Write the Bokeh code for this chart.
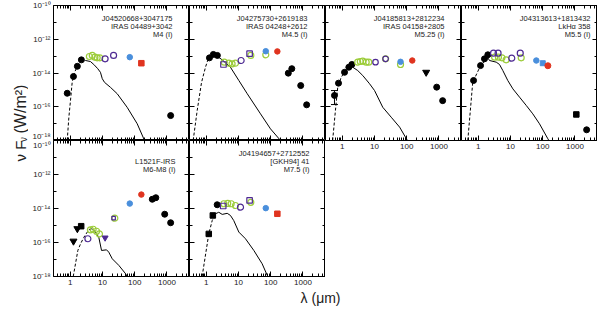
import math
from bokeh.plotting import figure
from bokeh.layouts import row, column
from bokeh.models import FixedTicker, LogAxis, Label, Range1d
from bokeh.core.properties import value
from bokeh.embed import file_html
from bokeh.resources import INLINE

# ---------------- axes ----------------
X_RANGE = (0.3, 5000)
Y_RANGE = (1e-18, 1e-10)
X_MAJOR = [1, 10, 100, 1000]
X_LABELS = {1: "1", 10: "10", 100: "100", 1000: "1000"}
Y_MAJOR = [1e-18, 1e-16, 1e-14, 1e-12, 1e-10]
Y_MINOR = [1e-17, 1e-15, 1e-13, 1e-11]
Y_LABELS = {1e-18: "10⁻¹⁸", 1e-16: "10⁻¹⁶", 1e-14: "10⁻¹⁴", 1e-12: "10⁻¹²", 1e-10: "10⁻¹⁰"}
X_MINOR = [m * d for d in (0.1, 1, 10, 100, 1000) for m in range(2, 10) if 0.3 <= m * d <= 5000]

# ---------------- panel 1 ----------------
P1_TEXT = ["J04520668+3047175", "IRAS 04489+3042", "M4 (I)"]
P1_RISE_X = [0.80, 0.90, 1.01, 1.14, 1.35, 1.71, 2.22, 2.96]
P1_RISE_Y = [1e-18, 2.4e-17, 2.3e-16, 2.8e-15, 1.1e-14, 2.8e-14, 4.8e-14, 5.5e-14]
P1_FALL_X = [2.96, 4.2, 5.35, 7.1, 8.6, 9.8, 11.5, 17.7, 28.5, 58, 119, 201]
P1_FALL_Y = [5.5e-14, 4.8e-14, 3.2e-14, 1.8e-14, 1.1e-14, 4.6e-15, 2.8e-15, 1.4e-15, 5.9e-16, 9.3e-17, 9.8e-18, 1e-18]
P1_BLACK_X = [0.80, 1.25, 1.65, 2.2, 1300]
P1_BLACK_Y = [6.3e-16, 6.2e-15, 2.5e-14, 6.0e-14, 3.0e-17]
P1_GREEN_X = [3.9, 4.8, 5.8, 6.8, 8.2]
P1_GREEN_Y = [9.5e-14, 1.1e-13, 8.7e-14, 7.9e-14, 7.9e-14]
P1_PURPLE_X = [12, 22]
P1_PURPLE_Y = [6.9e-14, 1.1e-13]
P1_BLUE_X = [70]
P1_BLUE_Y = [8.7e-14]
P1_RED_X = [160]
P1_RED_Y = [3.8e-14]

# ---------------- panel 2 ----------------
P2_TEXT = ["J04275730+2619183", "IRAS 04248+2612", "M4.5 (I)"]
P2_RISE_X = [0.39, 0.52, 0.71, 0.94, 1.19, 1.71]
P2_RISE_Y = [1e-18, 6.0e-17, 2.8e-15, 2.2e-14, 8.7e-14, 1.4e-13]
P2_FALL_X = [1.71, 3.11, 5.6, 10.2, 18.6, 48, 98, 201]
P2_FALL_Y = [1.4e-13, 6.0e-14, 2.2e-14, 3.6e-15, 5.9e-16, 3.8e-17, 4.9e-18, 1e-18]
P2_BLACK_X = [1.25, 1.65, 2.2, 350, 450, 850, 1300]
P2_BLACK_Y = [7.9e-14, 1.26e-13, 1.1e-13, 9.8e-15, 1.8e-14, 1.8e-15, 1.3e-16]
P2_GREEN_X = [3.6, 5.0, 6.3, 8.0, 24, 70]
P2_GREEN_Y = [4.4e-14, 3.8e-14, 3.5e-14, 3.8e-14, 1.1e-13, 1.2e-13]
P2_PSQ_X = [3.4, 22]
P2_PSQ_Y = [3.2e-14, 1.4e-13]
P2_PURPLE_X = [12]
P2_PURPLE_Y = [5.5e-14]
P2_BLUE_X = [70]
P2_BLUE_Y = [1.95e-13]
P2_RED_X = [160]
P2_RED_Y = [1.9e-13]

# ---------------- panel 3 ----------------
P3_TEXT = ["J04185813+2812234", "IRAS 04158+2805", "M5.25 (I)"]
P3_RISE_X = [0.50, 0.61, 0.72, 0.92, 1.17, 1.59, 1.97]
P3_RISE_Y = [1e-18, 6.0e-17, 1.45e-15, 5.6e-15, 1.1e-14, 2.0e-14, 2.8e-14]
P3_FALL_X = [1.97, 2.11, 3.0, 4.3, 7.0, 10.0, 18.0, 32.9, 60, 105]
P3_FALL_Y = [2.8e-14, 2.2e-14, 1.4e-14, 7.1e-15, 2.3e-15, 9.1e-16, 9.3e-17, 2.4e-17, 6.2e-18, 1e-18]
P3_BLACK_X = [0.57, 0.76, 1.17, 1.59, 1.97, 850, 1300]
P3_BLACK_Y = [4.7e-16, 2.5e-15, 1.1e-14, 2.2e-14, 3.2e-14, 1.45e-15, 2.3e-16]
P3_ERR_X = [0.57]
P3_ERR_LO = [1.35e-16]
P3_ERR_HI = [9.1e-16]
P3_LIMIT_X = [400]
P3_LIMIT_Y = [1.1e-14]
P3_GREEN_X = [3.0, 3.6, 4.3, 5.5, 6.6, 22, 64]
P3_GREEN_Y = [4.4e-14, 4.8e-14, 5.0e-14, 4.4e-14, 4.4e-14, 6.9e-14, 3.2e-14]
P3_PURPLE_X = [10.7, 22]
P3_PURPLE_Y = [4.4e-14, 6.9e-14]
P3_BLUE_X = [64]
P3_BLUE_Y = [4.6e-14]
P3_RED_X = [148]
P3_RED_Y = [5.5e-14]

# ---------------- panel 4 ----------------
P4_TEXT = ["J04313613+1813432", "LkHα 358", "M5.5 (I)"]
P4_RISE_X = [0.47, 0.67, 1.17, 1.97]
P4_RISE_Y = [1e-18, 2.8e-15, 2.75e-14, 8.0e-14]
P4_FALL_X = [1.97, 2.22, 3.59, 4.54, 5.75, 8.2, 11.8, 19.0, 30.6, 49, 79, 144, 155]
P4_FALL_Y = [8.0e-14, 5.5e-14, 4.4e-14, 3.2e-14, 1.4e-14, 3.6e-15, 1.15e-15, 3.7e-16, 1.2e-16, 3.8e-17, 9.8e-18, 1.26e-18, 1e-18]
P4_BLACK_X = [0.71, 1.17, 1.55, 1.97, 2300]
P4_BLACK_Y = [3.6e-15, 2.75e-14, 6.9e-14, 1.2e-13, 4.3e-18]
P4_BSQ_X = [1100]
P4_BSQ_Y = [3.5e-17]
P4_GREEN_X = [3.2, 4.2, 5.4, 7.3, 21.4]
P4_GREEN_Y = [8.7e-14, 8.7e-14, 7.9e-14, 6.0e-14, 7.9e-14]
P4_PURPLE_X = [2.96, 4.1, 10.9, 20]
P4_PURPLE_Y = [1.5e-13, 1.5e-13, 7.6e-14, 1.5e-13]
P4_BLUE_X = [63]
P4_BLUE_Y = [5.5e-14]
P4_BLUESQ_X = [100]
P4_BLUESQ_Y = [3.8e-14]
P4_RED_X = [144]
P4_RED_Y = [2.7e-14]

# ---------------- panel 5 ----------------
P5_TEXT = ["", "L1521F-IRS", "M6-M8 (I)"]
P5_RISE_X = [1.23, 1.71, 2.07, 2.62, 3.74, 4.77]
P5_RISE_Y = [1e-18, 3.4e-17, 8.3e-17, 2.0e-16, 5.6e-16, 6.5e-16]
P5_FALL_X = [4.77, 6.04, 7.65, 9.3, 13.3, 15.6, 20.0, 32, 52, 58]
P5_FALL_Y = [6.5e-16, 4.1e-16, 2.0e-16, 3.4e-17, 3.7e-17, 2.7e-17, 1.1e-17, 4.5e-18, 1.45e-18, 1e-18]
P5_LIMIT_X = [1.25, 1.65]
P5_LIMIT_Y = [1.2e-16, 6.5e-16]
P5_BSQ_X = [2.17]
P5_BSQ_Y = [9.1e-16]
P5_BLACK_X = [350, 450, 850, 1300]
P5_BLACK_Y = [3.5e-14, 4.3e-14, 4.6e-15, 1.45e-15]
P5_PURPLE_X = [3.5]
P5_PURPLE_Y = [1.66e-16]
P5_PLIM_X = [12]
P5_PLIM_Y = [1.9e-16]
P5_GREEN_X = [4.2, 5.1, 6.5, 8.0, 24]
P5_GREEN_Y = [5.6e-16, 6.0e-16, 4.6e-16, 3.2e-16, 2.7e-15]
P5_PSQ_X = [22]
P5_PSQ_Y = [2.7e-15]
P5_BLUE_X = [70]
P5_BLUE_Y = [1.95e-14]
P5_RED_X = [160]
P5_RED_Y = [6.6e-14]

# ---------------- panel 6 ----------------
P6_TEXT = ["J04194657+2712552", "[GKH94] 41", "M7.5 (I)"]
P6_RISE_X = [0.74, 1.19, 1.52, 1.92, 2.44]
P6_RISE_Y = [1e-18, 3.2e-16, 1.95e-15, 4.9e-15, 6.0e-15]
P6_FALL_X = [2.44, 3.11, 4.45, 5.6, 7.1, 10.2, 16.4, 29.8, 54, 78]
P6_FALL_Y = [6.0e-15, 4.5e-15, 5.2e-15, 3.9e-15, 1.95e-15, 4.1e-16, 1.66e-16, 3.4e-17, 5.6e-18, 1.15e-18]
P6_BSQ_X = [1.19, 1.59]
P6_BSQ_Y = [3.2e-16, 3.9e-15]
P6_BLACK_X = [2.17]
P6_BLACK_Y = [1.66e-14]
P6_PSQ_X = [3.34, 22]
P6_PSQ_Y = [1.4e-14, 3.0e-14]
P6_GREEN_X = [3.5, 4.6, 5.9, 8.05, 24]
P6_GREEN_Y = [1.9e-14, 2.0e-14, 1.9e-14, 1.5e-14, 2.3e-14]
P6_PURPLE_X = [11.5]
P6_PURPLE_Y = [1.2e-14]
P6_BLUE_X = [70]
P6_BLUE_Y = [1.05e-14]
P6_RED_X = [160]
P6_RED_Y = [4.9e-15]

Y_TITLE_MAIN = "ν F"
Y_TITLE_SUB = "ν"
Y_TITLE_UNIT = "(W/m²)"
X_TITLE = "λ  (μm)"

# ---------------- styling ----------------
GREEN = "#9ccc3a"
PURPLE = "#4e2a92"
BLUE = "#4a8fdc"
RED = "#e0341f"
FONT = "Liberation Sans"
TEXT_COL = "#222222"
FW = 136
FH_TOP, FH_BOT = 135, 136
YTW = 28          # width of the y-title strip
LEFT_B = 25       # room for y tick labels
BOT_B = 13        # room for x tick labels
XT_H = 20         # height of the x-title strip

x_ticker = FixedTicker(ticks=X_MAJOR, minor_ticks=X_MINOR)
y_ticker = FixedTicker(ticks=Y_MAJOR, minor_ticks=Y_MINOR)


def style_axis(ax, ticker, labels, show):
    ax.ticker = ticker
    ax.axis_line_color = None
    ax.major_tick_in = 5
    ax.major_tick_out = 0
    ax.minor_tick_in = 3
    ax.minor_tick_out = 0
    ax.major_tick_line_color = "black"
    ax.minor_tick_line_color = "black"
    ax.major_label_overrides = labels
    ax.major_label_text_font = FONT
    if show:
        ax.major_label_text_font_size = "8px"
        ax.major_label_text_color = TEXT_COL
        ax.major_label_standoff = 3
    else:
        ax.major_label_text_font_size = "0.1px"
        ax.major_label_text_alpha = 0
        ax.major_label_standoff = 0


def make_panel(fh, left_labels, bottom_labels, border_left, border_top, border_bottom):
    p = figure(x_axis_type="log", y_axis_type="log",
               x_range=Range1d(*X_RANGE), y_range=Range1d(*Y_RANGE),
               frame_width=FW, frame_height=fh,
               min_border_left=border_left, min_border_right=0,
               min_border_top=border_top, min_border_bottom=border_bottom,
               toolbar_location=None, output_backend="svg",
               outline_line_color="black", outline_line_width=1,
               background_fill_color="white", border_fill_color="white")
    p.grid.visible = False
    style_axis(p.xaxis[0], x_ticker, X_LABELS, bottom_labels)
    style_axis(p.yaxis[0], y_ticker, Y_LABELS, left_labels)
    top = LogAxis()
    style_axis(top, x_ticker, X_LABELS, False)
    p.add_layout(top, "above")
    right = LogAxis()
    style_axis(right, y_ticker, Y_LABELS, False)
    p.add_layout(right, "right")
    return p


def frac_pos(fx, fy):
    lx0, lx1 = math.log10(X_RANGE[0]), math.log10(X_RANGE[1])
    ly0, ly1 = math.log10(Y_RANGE[0]), math.log10(Y_RANGE[1])
    return 10 ** (lx0 + fx * (lx1 - lx0)), 10 ** (ly0 + fy * (ly1 - ly0))


def annotate(p, fh, lines, right_off):
    offs = [13, 21, 29]
    for txt, off in zip(lines, offs):
        if not txt:
            continue
        x, y = frac_pos(1 - right_off / FW, 1 - off / fh)
        p.add_layout(Label(x=x, y=y, text=txt, text_align="right", text_baseline="middle",
                           text_font=FONT, text_font_size="7.5px", text_color=TEXT_COL))


def model(p, rx, ry, fx, fy):
    p.line(rx, ry, line_color="black", line_width=1, line_dash="3 2")
    p.line(fx, fy, line_color="black", line_width=1)


def filled(p, xs, ys, color, marker="circle", size=6):
    p.scatter(xs, ys, marker=marker, size=size, fill_color=color, line_color=color, line_width=1)


def hollow(p, xs, ys, color, marker="circle", size=6):
    p.scatter(xs, ys, marker=marker, size=size, fill_color=None, line_color=color, line_width=1.2)


# panel 1
p1 = make_panel(FH_TOP, True, False, LEFT_B, 5, 0)
model(p1, P1_RISE_X, P1_RISE_Y, P1_FALL_X, P1_FALL_Y)
filled(p1, P1_BLACK_X, P1_BLACK_Y, "black")
hollow(p1, P1_GREEN_X, P1_GREEN_Y, GREEN)
hollow(p1, P1_PURPLE_X, P1_PURPLE_Y, PURPLE)
filled(p1, P1_BLUE_X, P1_BLUE_Y, BLUE, size=5.5)
filled(p1, P1_RED_X, P1_RED_Y, RED, marker="square", size=5.5)
annotate(p1, FH_TOP, P1_TEXT, 17)

# panel 2
p2 = make_panel(FH_TOP, False, False, 0, 5, 0)
model(p2, P2_RISE_X, P2_RISE_Y, P2_FALL_X, P2_FALL_Y)
filled(p2, P2_BLACK_X, P2_BLACK_Y, "black")
hollow(p2, P2_GREEN_X, P2_GREEN_Y, GREEN)
hollow(p2, P2_PSQ_X, P2_PSQ_Y, PURPLE, marker="square", size=5.5)
hollow(p2, P2_PURPLE_X, P2_PURPLE_Y, PURPLE)
filled(p2, P2_BLUE_X, P2_BLUE_Y, BLUE, size=5.5)
filled(p2, P2_RED_X, P2_RED_Y, RED, size=5.5)
annotate(p2, FH_TOP, P2_TEXT, 18)

# panel 3
p3 = make_panel(FH_TOP, False, True, 0, 5, 14)
model(p3, P3_RISE_X, P3_RISE_Y, P3_FALL_X, P3_FALL_Y)
p3.segment(P3_ERR_X, P3_ERR_LO, P3_ERR_X, P3_ERR_HI, line_color="black", line_width=1)
p3.scatter(P3_ERR_X, P3_ERR_LO, marker="dash", size=7, line_color="black", line_width=1)
p3.scatter(P3_ERR_X, P3_ERR_HI, marker="dash", size=7, line_color="black", line_width=1)
filled(p3, P3_BLACK_X, P3_BLACK_Y, "black")
filled(p3, P3_LIMIT_X, P3_LIMIT_Y, "black", marker="inverted_triangle", size=7)
hollow(p3, P3_GREEN_X, P3_GREEN_Y, GREEN)
hollow(p3, P3_PURPLE_X, P3_PURPLE_Y, PURPLE, size=5.5)
filled(p3, P3_BLUE_X, P3_BLUE_Y, BLUE, size=5.5)
filled(p3, P3_RED_X, P3_RED_Y, RED, size=5.5)
annotate(p3, FH_TOP, P3_TEXT, 17)

# panel 4
p4 = make_panel(FH_TOP, False, True, 0, 5, 14)
model(p4, P4_RISE_X, P4_RISE_Y, P4_FALL_X, P4_FALL_Y)
filled(p4, P4_BLACK_X, P4_BLACK_Y, "black")
filled(p4, P4_BSQ_X, P4_BSQ_Y, "black", marker="square", size=5.5)
hollow(p4, P4_GREEN_X, P4_GREEN_Y, GREEN)
hollow(p4, P4_PURPLE_X, P4_PURPLE_Y, PURPLE)
filled(p4, P4_BLUE_X, P4_BLUE_Y, BLUE, size=5.5)
filled(p4, P4_BLUESQ_X, P4_BLUESQ_Y, BLUE, marker="square", size=5)
filled(p4, P4_RED_X, P4_RED_Y, RED, size=6)
annotate(p4, FH_TOP, P4_TEXT, 7)

# panel 5
p5 = make_panel(FH_BOT, True, True, LEFT_B, 0, BOT_B)
model(p5, P5_RISE_X, P5_RISE_Y, P5_FALL_X, P5_FALL_Y)
filled(p5, P5_LIMIT_X, P5_LIMIT_Y, "black", marker="inverted_triangle", size=7)
filled(p5, P5_BSQ_X, P5_BSQ_Y, "black", marker="square", size=5.5)
filled(p5, P5_BLACK_X, P5_BLACK_Y, "black")
hollow(p5, P5_GREEN_X, P5_GREEN_Y, GREEN)
hollow(p5, P5_PURPLE_X, P5_PURPLE_Y, PURPLE)
filled(p5, P5_PLIM_X, P5_PLIM_Y, PURPLE, marker="inverted_triangle", size=6)
hollow(p5, P5_PSQ_X, P5_PSQ_Y, PURPLE, marker="square", size=3.5)
filled(p5, P5_BLUE_X, P5_BLUE_Y, BLUE, size=5.5)
filled(p5, P5_RED_X, P5_RED_Y, RED, size=5.5)
annotate(p5, FH_BOT, P5_TEXT, 14)

# panel 6
p6 = make_panel(FH_BOT, False, True, 0, 0, BOT_B)
model(p6, P6_RISE_X, P6_RISE_Y, P6_FALL_X, P6_FALL_Y)
filled(p6, P6_BSQ_X, P6_BSQ_Y, "black", marker="square", size=5.5)
filled(p6, P6_BLACK_X, P6_BLACK_Y, "black")
hollow(p6, P6_GREEN_X, P6_GREEN_Y, GREEN)
hollow(p6, P6_PSQ_X, P6_PSQ_Y, PURPLE, marker="square", size=5.5)
hollow(p6, P6_PURPLE_X, P6_PURPLE_Y, PURPLE)
filled(p6, P6_BLUE_X, P6_BLUE_Y, BLUE, size=5.5)
filled(p6, P6_RED_X, P6_RED_Y, RED, marker="square", size=5.5)
annotate(p6, FH_BOT, P6_TEXT, 16)

# y-axis title (rotated text glyphs)
YH = 5 + FH_TOP + FH_BOT + BOT_B
yfig = figure(width=YTW, height=YH, x_range=Range1d(0, YTW), y_range=Range1d(0, YH),
              x_axis_location=None, y_axis_location=None, min_border=0,
              toolbar_location=None, output_backend="svg", outline_line_color=None)
yfig.grid.visible = False
y0 = YH - 167
yfig.text(x=[20], y=[y0], text=[Y_TITLE_MAIN], angle=math.pi / 2, text_align="left",
          text_baseline="alphabetic", text_font=value(FONT), text_font_size="15px",
          text_color=TEXT_COL)
yfig.text(x=[23], y=[y0 + 21], text=[Y_TITLE_SUB], angle=math.pi / 2, text_align="left",
          text_baseline="alphabetic", text_font=value(FONT), text_font_size="10px",
          text_color=TEXT_COL)
yfig.text(x=[20], y=[y0 + 30], text=[Y_TITLE_UNIT], angle=math.pi / 2, text_align="left",
          text_baseline="alphabetic", text_font=value(FONT), text_font_size="16px",
          text_color=TEXT_COL)

# x-axis title
LW = YTW + LEFT_B + 4 * FW
xfig = figure(width=LW, height=XT_H, x_range=Range1d(0, LW), y_range=Range1d(0, XT_H),
              x_axis_location=None, y_axis_location=None, min_border=0,
              toolbar_location=None, output_backend="svg", outline_line_color=None)
xfig.grid.visible = False
xfig.text(x=[322], y=[12], text=[X_TITLE], text_align="center", text_baseline="middle",
          text_font=value(FONT), text_font_size="14px", text_color=TEXT_COL)

layout = column(row(yfig, column(p1, p5), column(p2, p6), p3, p4), xfig)

open("out.html", "w").write(file_html(layout, INLINE))
